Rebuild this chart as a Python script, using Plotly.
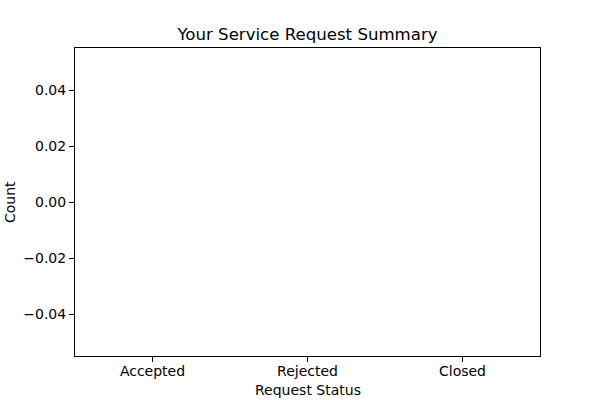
import plotly.graph_objects as go

categories = ["Accepted", "Rejected", "Closed"]
counts = [0, 0, 0]
y_ticks = [-0.04, -0.02, 0.0, 0.02, 0.04]
y_tick_labels = ["\u22120.04", "\u22120.02", "0.00", "0.02", "0.04"]

font = "DejaVu Sans"
L, R, T, B = 75, 540, 48, 356
W = R - L
H = B - T

fig = go.Figure()
fig.add_trace(go.Bar(x=list(range(len(categories))), y=counts, marker_color="#1f77b4",
                     width=0.8, marker_line_width=0))

axis_common = dict(showline=True, linecolor="black", linewidth=1, mirror=True,
                   ticks="outside", ticklen=5, tickwidth=1, tickcolor="black",
                   showgrid=False, zeroline=False, automargin=False,
                   tickfont=dict(family=font, size=14, color="black"))

fig.update_layout(
    width=600, height=400,
    margin=dict(l=L, r=600 - R, t=T, b=400 - B, autoexpand=False),
    plot_bgcolor="white", paper_bgcolor="white",
    showlegend=False,
    font=dict(family=font, color="black"),
    title=dict(text="Your Service Request Summary", x=(L + R) / 2 / 600, xanchor="center",
               y=1 - 34 / 400, yanchor="middle", yref="container",
               font=dict(family=font, size=16.6, color="black")),
    xaxis=dict(range=[-0.5, 2.5], tickvals=list(range(len(categories))), ticktext=categories,
               ticklabelstandoff=-3, **axis_common),
    yaxis=dict(range=[-0.055, 0.055], tickvals=y_ticks, ticktext=y_tick_labels,
               **axis_common),
    annotations=[
        dict(text="Request Status", x=((L + R) / 2 - L) / W, y=(B - 390) / H,
             xref="paper", yref="paper",
             showarrow=False, xanchor="center", yanchor="middle",
             font=dict(family=font, size=14, color="black")),
        dict(text="Count", x=(10 - L) / W, y=(B - 202) / H, xref="paper", yref="paper",
             showarrow=False, xanchor="center", yanchor="middle", textangle=-90,
             font=dict(family=font, size=14, color="black")),
    ],
)

fig.write_html("out.html")
